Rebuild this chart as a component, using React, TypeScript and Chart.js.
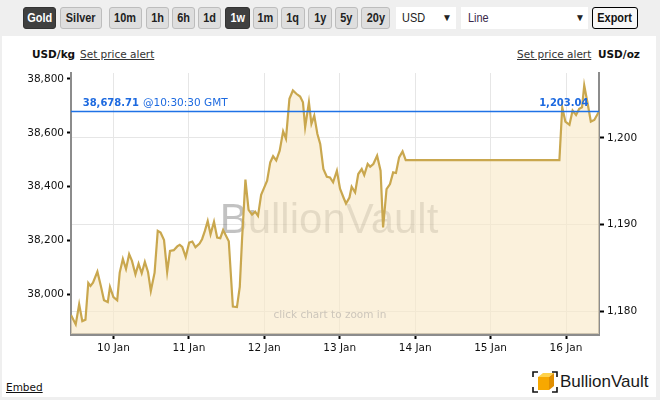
import React, { useEffect, useRef } from "react";
import { Chart, registerables } from "chart.js";

Chart.register(...registerables);

// hours since 9 Jan 00:00 GMT
const hours = [
  10.5, 12.0, 13.1, 14.1, 15.1, 16.0, 16.7, 17.5, 18.9, 20.0,
  21.0, 22.2, 22.9, 24.0, 25.2, 26.0, 27.0, 28.0, 29.0, 29.9,
  31.0, 32.0, 33.0, 34.0, 35.0, 35.9, 37.1, 38.1, 39.0, 40.1,
  41.1, 42.0, 43.2, 44.3, 45.1, 45.9, 47.0, 48.1, 49.1, 50.1,
  51.4, 52.2, 53.1, 54.0, 54.9, 56.0, 57.0, 58.0, 58.9, 60.7,
  62.0, 63.3, 64.2, 64.9, 66.0, 67.0, 68.1, 69.1, 70.0, 71.0,
  72.0, 72.9, 73.9, 74.8, 75.8, 76.9, 78.0, 78.9, 80.0, 81.1,
  82.2, 83.4, 84.3, 85.0, 86.2, 87.0, 87.9, 88.9, 89.8, 90.8,
  91.9, 92.9, 93.9, 95.1, 96.1, 97.2, 98.0, 99.1, 99.8, 100.9,
  101.9, 103.0, 103.8, 104.9, 105.7, 106.7, 107.9, 109.0, 109.8, 110.9,
  112.0, 113.0, 113.9, 114.9, 116.0, 117.0, 165.9, 166.8, 167.8, 169.1,
  170.1, 171.2, 172.2, 173.1, 173.8, 174.9, 175.9, 177.0, 178.5,
];

// gold price, USD/oz
const pricesOz = [
  1179.54, 1178.46, 1180.78, 1178.84, 1178.99, 1183.24, 1182.9, 1183.28, 1184.55, 1182.9,
  1181.24, 1181.04, 1182.78, 1181.62, 1181.24, 1184.44, 1186.02, 1184.86, 1186.57, 1185.79,
  1184.25, 1185.48, 1184.37, 1185.67, 1184.52, 1182.32, 1184.44, 1189.26, 1189.07, 1188.19,
  1184.52, 1186.95, 1187.03, 1187.47, 1187.64, 1187.41, 1186.25, 1187.91, 1188.03, 1187.38,
  1187.79, 1188.3, 1189.26, 1190.39, 1188.86, 1190.31, 1188.49, 1188.42, 1189.36, 1188.07,
  1180.52, 1180.46, 1182.78, 1188.11, 1195.19, 1191.7, 1191.14, 1191.49, 1191.0, 1193.43,
  1194.28, 1195.06, 1197.17, 1197.89, 1197.39, 1198.53, 1200.76, 1199.92, 1204.52, 1205.48,
  1205.1, 1204.78, 1204.12, 1201.23, 1204.12, 1201.62, 1202.58, 1200.46, 1199.31, 1196.41,
  1195.52, 1195.44, 1194.88, 1196.21, 1194.13, 1193.12, 1192.43, 1193.12, 1194.36, 1193.7,
  1195.83, 1196.41, 1195.72, 1196.99, 1196.68, 1196.99, 1197.95, 1196.21, 1189.65, 1194.09,
  1194.67, 1196.02, 1195.95, 1197.75, 1198.45, 1197.43, 1197.43, 1203.54, 1201.89, 1201.51,
  1203.16, 1202.66, 1203.36, 1203.54, 1206.06, 1203.94, 1201.89, 1202.08, 1203.04,
];

const dayTickHours = [24, 48, 72, 96, 120, 144, 168];
const dayLabels = ["10 Jan", "11 Jan", "12 Jan", "13 Jan", "14 Jan", "15 Jan", "16 Jan"];
const ozTicks = [1180, 1190, 1200];
const kgTicks = [38000, 38200, 38400, 38600, 38800];

const OZ_PER_KG = 32.1507466;
const X_MIN = 10.5;
const X_MAX = 178.5;
const OZ_MIN = 1177.35;
const OZ_MAX = 1207.5;

const currentOz = 1203.04;
const currentKgLabel = "38,678.71";
const currentOzLabel = "1,203.04";
const currentTimeLabel = "@10:30:30 GMT";

const CANVAS_TOP = 60;
const FONT = "'DejaVu Sans', Verdana, sans-serif";
const NARROW = "'Liberation Sans Narrow', 'Arial Narrow', 'Liberation Sans', Arial, sans-serif";

const overlayPlugin = {
  id: "overlay",
  beforeDatasetsDraw(chart: any) {
    const { ctx, chartArea: a } = chart;
    ctx.save();
    ctx.beginPath();
    ctx.rect(a.left, a.top, a.right - a.left, a.bottom - a.top);
    ctx.clip();
    ctx.font = "42px 'Liberation Sans', Arial, sans-serif";
    ctx.fillStyle = "rgba(0,0,0,0.24)";
    ctx.textAlign = "center";
    ctx.textBaseline = "alphabetic";
    ctx.fillText("BullionVault", 329, 233 - CANVAS_TOP);
    ctx.restore();
  },
  afterDatasetsDraw(chart: any) {
    const { ctx, chartArea: a } = chart;
    const y = chart.scales.y.getPixelForValue(currentOz);
    ctx.save();
    ctx.strokeStyle = "#1f72e6";
    ctx.lineWidth = 1.5;
    ctx.beginPath();
    ctx.moveTo(a.left, y);
    ctx.lineTo(a.right, y);
    ctx.stroke();

    ctx.fillStyle = "#1d6ae0";
    ctx.textBaseline = "alphabetic";
    ctx.textAlign = "left";
    ctx.font = `bold 10px ${FONT}`;
    const lx = a.left + 11.7;
    ctx.fillText(currentKgLabel, lx, y - 5.3);
    const w = ctx.measureText(currentKgLabel).width;
    ctx.font = `10.5px ${FONT}`;
    ctx.fillText(currentTimeLabel, lx + w + 4, y - 5.3);

    ctx.font = `bold 10px ${FONT}`;
    ctx.textAlign = "right";
    ctx.fillText(currentOzLabel, a.right - 10.5, y - 5.3);

    ctx.font = `10.5px ${FONT}`;
    ctx.textAlign = "center";
    ctx.textBaseline = "middle";
    ctx.fillStyle = "#cdc6bb";
    ctx.fillText("click chart to zoom in", 330, 315.7 - CANVAS_TOP);
    ctx.restore();
  },
};

const btnBase: React.CSSProperties = {
  position: "absolute",
  top: 7,
  height: 22,
  boxSizing: "border-box",
  border: "1px solid #bdbdbd",
  borderRadius: 3,
  background: "#dedede",
  color: "#222",
  fontFamily: NARROW,
  fontWeight: "bold",
  fontSize: 13,
  lineHeight: "20px",
  textAlign: "center",
  whiteSpace: "nowrap",
};

const narrowText: React.CSSProperties = {
  display: "inline-block",
  transform: "scaleX(0.84)",
  transformOrigin: "center",
};

const buttons: [string, number, number, boolean][] = [
  ["Gold", 23, 33, true],
  ["Silver", 60, 42, false],
  ["10m", 109, 33, false],
  ["1h", 146, 23, false],
  ["6h", 172, 23, false],
  ["1d", 198, 23, false],
  ["1w", 225, 25, true],
  ["1m", 253, 25, false],
  ["1q", 281, 24, false],
  ["1y", 308, 24, false],
  ["5y", 335, 23, false],
  ["20y", 361, 29, false],
];

export default function App() {
  const ref = useRef<HTMLCanvasElement>(null);

  useEffect(() => {
    const canvas = ref.current;
    if (!canvas) return;
    const data = hours.map((h, i) => ({ x: h, y: pricesOz[i] }));
    const chart = new Chart(canvas, {
      type: "line",
      data: {
        datasets: [
          {
            data,
            yAxisID: "y",
            xAxisID: "x",
            borderColor: "#c9a74e",
            borderWidth: 2.2,
            backgroundColor: "rgba(248,232,198,0.62)",
            fill: "start",
            pointRadius: 0,
            tension: 0,
          },
        ],
      },
      options: {
        responsive: false,
        maintainAspectRatio: false,
        animation: false,
        events: [],
        layout: { padding: { top: 13, left: 0, right: 0, bottom: 0 } },
        plugins: {
          legend: { display: false },
          tooltip: { enabled: false },
        },
        scales: {
          x: {
            type: "linear",
            min: X_MIN,
            max: X_MAX,
            afterFit: (s: any) => {
              s.height = 36;
            },
            afterBuildTicks: (s: any) => {
              s.ticks = dayTickHours.map((v) => ({ value: v }));
            },
            border: { display: true, color: "#8c8c8c", width: 3 },
            grid: {
              color: "#e6e6e6",
              lineWidth: 1,
              tickColor: "#000",
              tickLength: 5,
              tickWidth: 2,
            },
            ticks: {
              autoSkip: false,
              maxRotation: 0,
              padding: 3,
              color: "#111",
              font: { family: FONT, size: 10.5 },
              callback: (v: any) => {
                const i = dayTickHours.indexOf(Number(v));
                return i >= 0 ? dayLabels[i] : "";
              },
            },
          },
          yKg: {
            type: "linear",
            position: "left",
            min: OZ_MIN * OZ_PER_KG,
            max: OZ_MAX * OZ_PER_KG,
            afterFit: (s: any) => {
              s.width = 71;
            },
            afterBuildTicks: (s: any) => {
              s.ticks = kgTicks.map((v) => ({ value: v }));
            },
            border: { display: true, color: "#8c8c8c", width: 2 },
            grid: {
              drawOnChartArea: false,
              tickColor: "#000",
              tickLength: 4,
              tickWidth: 2,
            },
            ticks: {
              padding: 3,
              color: "#111",
              font: { family: FONT, size: 10.5 },
              callback: (v: any) => Number(v).toLocaleString("en-US"),
            },
          },
          y: {
            type: "linear",
            position: "right",
            min: OZ_MIN,
            max: OZ_MAX,
            afterFit: (s: any) => {
              s.width = 61;
            },
            afterBuildTicks: (s: any) => {
              s.ticks = ozTicks.map((v) => ({ value: v }));
            },
            border: { display: true, color: "#8c8c8c", width: 2 },
            grid: {
              color: "#e6e6e6",
              lineWidth: 1,
              tickColor: "#000",
              tickLength: 5,
              tickWidth: 2,
            },
            ticks: {
              padding: 3,
              color: "#111",
              font: { family: FONT, size: 10.5 },
              callback: (v: any) => Number(v).toLocaleString("en-US"),
            },
          },
        },
      },
      plugins: [overlayPlugin],
    } as any);
    return () => chart.destroy();
  }, []);

  const label = (text: string, left: number, top: number, extra: React.CSSProperties = {}) => (
    <div
      style={{
        position: "absolute",
        left,
        top,
        fontFamily: FONT,
        fontSize: 10.5,
        lineHeight: "13px",
        whiteSpace: "nowrap",
        color: "#222",
        ...extra,
      }}
    >
      {text}
    </div>
  );

  return (
    <div
      style={{
        position: "fixed",
        left: 0,
        top: 0,
        width: 660,
        height: 400,
        background: "#efefef",
        overflow: "hidden",
      }}
    >
      {buttons.map(([t, l, w, active]) => (
        <div
          key={t}
          style={{
            ...btnBase,
            left: l,
            width: w,
            background: active ? "#404040" : "#dedede",
            color: active ? "#fff" : "#222",
            border: active ? "1px solid #333" : "1px solid #bdbdbd",
          }}
        >
          <span style={narrowText}>{t}</span>
        </div>
      ))}
      <div
        style={{
          position: "absolute",
          left: 396,
          top: 7,
          width: 60,
          height: 22,
          background: "#fff",
          fontFamily: NARROW,
          fontSize: 13,
          lineHeight: "22px",
          color: "#222",
        }}
      >
        <span style={{ position: "absolute", left: 6, ...narrowText, transformOrigin: "left" }}>USD</span>
        <span style={{ position: "absolute", left: 46, fontSize: 10 }}>▼</span>
      </div>
      <div
        style={{
          position: "absolute",
          left: 461,
          top: 7,
          width: 127,
          height: 22,
          background: "#fff",
          fontFamily: NARROW,
          fontSize: 13,
          lineHeight: "22px",
          color: "#3a2a4a",
        }}
      >
        <span style={{ position: "absolute", left: 7, ...narrowText, transformOrigin: "left" }}>Line</span>
        <span style={{ position: "absolute", left: 114, fontSize: 10, color: "#222" }}>▼</span>
      </div>
      <div
        style={{
          ...btnBase,
          left: 592,
          width: 46,
          background: "#f7f7f7",
          border: "1px solid #000",
          color: "#111",
        }}
      >
        <span style={narrowText}>Export</span>
      </div>

      <div
        style={{
          position: "absolute",
          left: 2,
          top: 36,
          width: 654,
          height: 361,
          background: "#fff",
        }}
      />

      {label("USD/kg", 32, 48, { fontWeight: "bold", color: "#111" })}
      {label("Set price alert", 80, 48, { textDecoration: "underline", color: "#333" })}
      {label("Set price alert", 517, 48, { textDecoration: "underline", color: "#333" })}
      {label("USD/oz", 598, 48, { fontWeight: "bold", color: "#111" })}

      <canvas
        ref={ref}
        width={660}
        height={310}
        style={{ position: "absolute", left: 0, top: CANVAS_TOP, width: 660, height: 310 }}
      />

      {label("Embed", 6, 381, { textDecoration: "underline", color: "#111" })}

      <svg
        style={{ position: "absolute", left: 532, top: 371 }}
        width={26}
        height={22}
        viewBox="0 0 26 22"
      >
        <polygon points="6,6 11,2 22,2 17,6" fill="#ffd24a" />
        <polygon points="17,6 22,2 22,15 17,19" fill="#e08e00" />
        <rect x={6} y={6} width={11} height={13} fill="#f7a800" />
        <polyline points="1,6 1,1 6,1" fill="none" stroke="#111" strokeWidth={1.6} />
        <polyline points="1,16 1,21 6,21" fill="none" stroke="#111" strokeWidth={1.6} />
        <polyline points="20,21 25,21 25,16" fill="none" stroke="#111" strokeWidth={1.6} />
        <polyline points="20,1 25,1 25,6" fill="none" stroke="#111" strokeWidth={1.6} />
      </svg>
      <div
        style={{
          position: "absolute",
          left: 560,
          top: 371,
          fontFamily: "'Liberation Sans', Arial, sans-serif",
          fontSize: 17,
          lineHeight: "22px",
          color: "#1a1a1a",
          whiteSpace: "nowrap",
        }}
      >
        BullionVault
      </div>
    </div>
  );
}
